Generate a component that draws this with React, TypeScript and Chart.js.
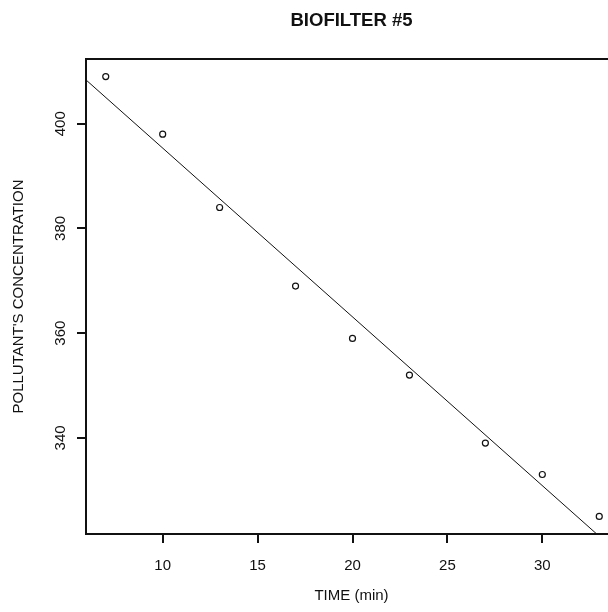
import React, { useEffect, useRef } from "react";
import { Chart, registerables } from "chart.js";

Chart.register(...registerables);

const timeMin = [7, 10, 13, 17, 20, 23, 27, 30, 33];
const concentration = [409, 398, 384, 369, 359, 352, 339, 333, 325];
const xTicks = [10, 15, 20, 25, 30];
const yTicks = [340, 360, 380, 400];
const titleText = "BIOFILTER #5";
const xTitle = "TIME (min)";
const yTitle = "POLLUTANT'S CONCENTRATION";

// R-style axis limits: data range extended by 4% on each side
function rLimits(v: number[]) {
  const lo = Math.min(...v);
  const hi = Math.max(...v);
  const d = (hi - lo) * 0.04;
  return [lo - d, hi + d];
}

// least-squares fit of the data (abline(lm(...)))
function fit(xs: number[], ys: number[]) {
  const n = xs.length;
  const mx = xs.reduce((a, b) => a + b, 0) / n;
  const my = ys.reduce((a, b) => a + b, 0) / n;
  let sxy = 0;
  let sxx = 0;
  for (let i = 0; i < n; i++) {
    sxy += (xs[i] - mx) * (ys[i] - my);
    sxx += (xs[i] - mx) * (xs[i] - mx);
  }
  const b = sxy / sxx;
  return { a: my - b * mx, b };
}

const FONT = "'Liberation Sans', Arial, sans-serif";

export default function App() {
  const ref = useRef<HTMLCanvasElement | null>(null);

  useEffect(() => {
    if (!ref.current) return;
    const [xmin, xmax] = rLimits(timeMin);
    const [ymin, ymax] = rLimits(concentration);
    const { a, b } = fit(timeMin, concentration);
    const lineX = [xmin, xmax];

    const textPlugin = {
      id: "rtext",
      afterDraw(chart: any) {
        const ctx = chart.ctx;
        const area = chart.chartArea;
        const xs = chart.scales.x;
        const ys = chart.scales.y;
        ctx.save();
        ctx.strokeStyle = "#111";
        ctx.lineWidth = 2;
        ctx.strokeRect(
          Math.round(area.left),
          Math.round(area.top),
          Math.round(area.right - area.left),
          Math.round(area.bottom - area.top)
        );
        ctx.fillStyle = "#111";
        ctx.textAlign = "center";
        ctx.textBaseline = "middle";
        ctx.font = `15px ${FONT}`;
        xTicks.forEach((t) => {
          ctx.fillText(String(t), xs.getPixelForValue(t), 566);
        });
        yTicks.forEach((t) => {
          ctx.save();
          ctx.translate(61, ys.getPixelForValue(t));
          ctx.rotate(-Math.PI / 2);
          ctx.fillText(String(t), 0, 0);
          ctx.restore();
        });
        ctx.fillText(xTitle, (area.left + area.right) / 2 - 1, 596);
        ctx.save();
        ctx.translate(19, (area.top + area.bottom) / 2);
        ctx.rotate(-Math.PI / 2);
        ctx.fillText(yTitle, 0, 0);
        ctx.restore();
        ctx.font = `bold 18.5px ${FONT}`;
        ctx.fillText(titleText, (area.left + area.right) / 2 - 1, 21);
        ctx.restore();
      },
    };

    const chart = new Chart(ref.current, {
      type: "scatter",
      data: {
        datasets: [
          {
            type: "scatter",
            data: timeMin.map((x, i) => ({ x, y: concentration[i] })),
            pointStyle: "circle",
            pointRadius: 3,
            pointBorderWidth: 1.2,
            pointBorderColor: "#111",
            pointBackgroundColor: "rgba(0,0,0,0)",
          } as any,
          {
            type: "line",
            data: lineX.map((x) => ({ x, y: a + b * x })),
            borderColor: "#111",
            borderWidth: 1,
            pointRadius: 0,
            fill: false,
          } as any,
        ],
      },
      options: {
        responsive: false,
        animation: false,
        devicePixelRatio: 1,
        layout: { padding: { top: 59, right: 11, left: 0, bottom: 0 } },
        plugins: {
          legend: { display: false },
          tooltip: { enabled: false },
          title: { display: false },
        },
        scales: {
          x: {
            type: "linear",
            min: xmin,
            max: xmax,
            afterBuildTicks: (s: any) => {
              s.ticks = xTicks.map((v) => ({ value: v }));
            },
            afterFit: (s: any) => {
              s.height = 78;
            },
            ticks: { display: false },
            border: { display: false },
            grid: {
              drawOnChartArea: false,
              drawTicks: true,
              tickLength: 9,
              tickColor: "#111",
              lineWidth: 2,
            },
          },
          y: {
            type: "linear",
            min: ymin,
            max: ymax,
            afterBuildTicks: (s: any) => {
              s.ticks = yTicks.map((v) => ({ value: v }));
            },
            afterFit: (s: any) => {
              s.width = 86;
            },
            ticks: { display: false },
            border: { display: false },
            grid: {
              drawOnChartArea: false,
              drawTicks: true,
              tickLength: 9,
              tickColor: "#111",
              lineWidth: 2,
            },
          },
        },
      },
      plugins: [textPlugin],
    });
    return () => chart.destroy();
  }, []);

  return (
    <div
      style={{
        position: "fixed",
        left: 0,
        top: 0,
        width: 608,
        height: 612,
        overflow: "hidden",
        background: "#fff",
      }}
    >
      <canvas ref={ref} width={630} height={612} style={{ display: "block", width: 630, height: 612 }} />
    </div>
  );
}
